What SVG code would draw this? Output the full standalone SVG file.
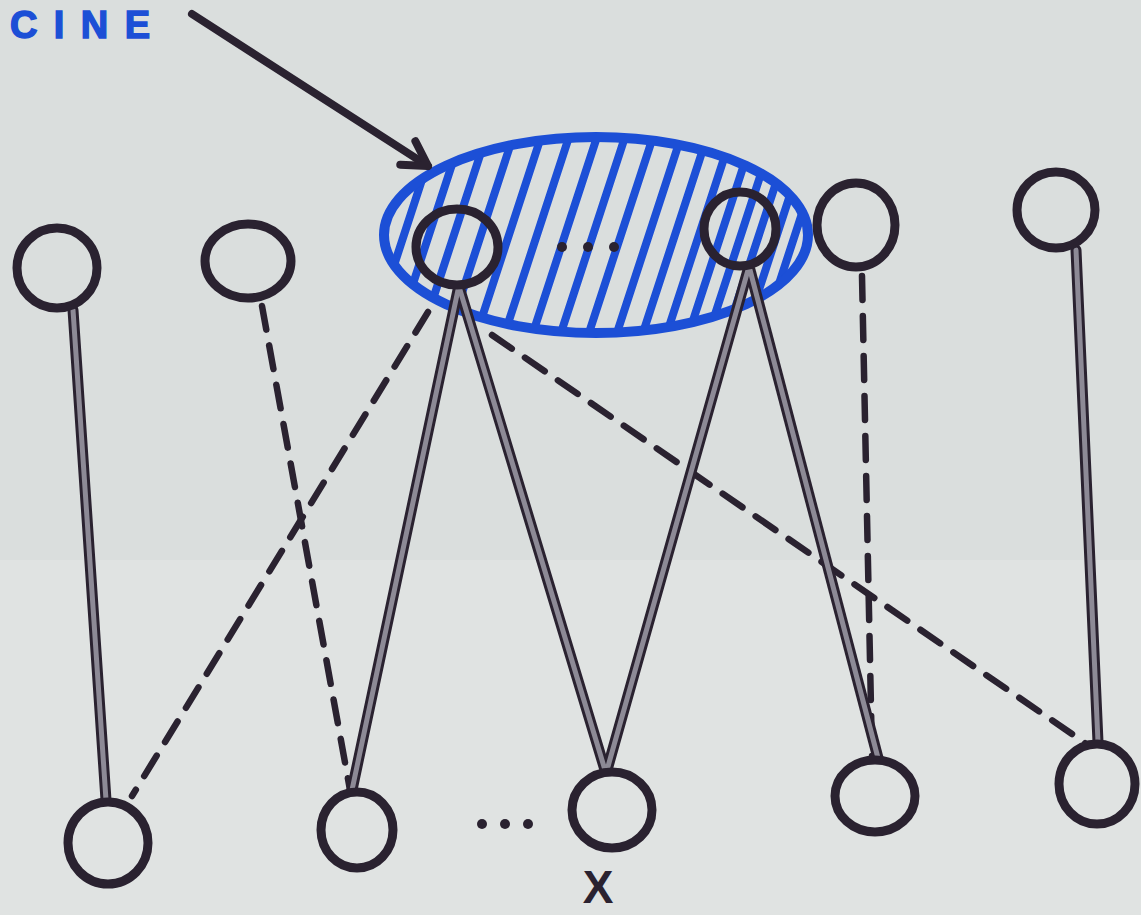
<svg xmlns="http://www.w3.org/2000/svg" width="1141" height="915" viewBox="0 0 1141 915">
<defs>
<style>
.node{fill:none;stroke:#2a2230;stroke-width:9}
.edge-o{fill:none;stroke:#2a2230;stroke-width:11;stroke-linecap:round}
.edge-i{fill:none;stroke:#8d8a96;stroke-width:5;stroke-linecap:round}
.dash{fill:none;stroke:#2a2230;stroke-width:6.5;stroke-dasharray:24 16;stroke-linecap:round}
.hatch{stroke:#1c4fd6;stroke-width:8;stroke-linecap:round}
.dot{fill:#2a2230}
</style>
<clipPath id="ellClip"><ellipse cx="596" cy="235" rx="210" ry="96"/></clipPath>
<marker id="arrow" markerWidth="40" markerHeight="40" refX="30" refY="20" orient="auto" markerUnits="userSpaceOnUse">
<path d="M6,6 L30,20 L6,34" fill="none" stroke="#2a2230" stroke-width="8" stroke-linecap="round" stroke-linejoin="round"/>
</marker>
</defs>
<rect width="1141" height="915" fill="#dadedd"/>
<rect y="560" width="1141" height="355" fill="#e0e3e2"/>
<text x="10" y="38" font-family="Liberation Sans, Arial, sans-serif" font-weight="bold" font-size="38" fill="#1c4fd6" stroke="#1c4fd6" stroke-width="1.5" textLength="140" lengthAdjust="spacing">CINE</text>
<g id="group-ellipse">
<g clip-path="url(#ellClip)">
<line class="hatch" x1="325" y1="400" x2="410" y2="140"/>
<line class="hatch" x1="350" y1="400" x2="435" y2="140"/>
<line class="hatch" x1="375" y1="400" x2="460" y2="140"/>
<line class="hatch" x1="400" y1="400" x2="485" y2="140"/>
<line class="hatch" x1="427" y1="400" x2="512" y2="140"/>
<line class="hatch" x1="455" y1="400" x2="540" y2="140"/>
<line class="hatch" x1="483" y1="400" x2="568" y2="140"/>
<line class="hatch" x1="511" y1="400" x2="596" y2="140"/>
<line class="hatch" x1="539" y1="400" x2="624" y2="140"/>
<line class="hatch" x1="567" y1="400" x2="652" y2="140"/>
<line class="hatch" x1="595" y1="400" x2="680" y2="140"/>
<line class="hatch" x1="621" y1="400" x2="706" y2="140"/>
<line class="hatch" x1="645" y1="400" x2="730" y2="140"/>
<line class="hatch" x1="667" y1="400" x2="752" y2="140"/>
<line class="hatch" x1="687" y1="400" x2="772" y2="140"/>
<line class="hatch" x1="705" y1="400" x2="790" y2="140"/>
<line class="hatch" x1="723" y1="400" x2="808" y2="140"/>
<line class="hatch" x1="741" y1="400" x2="826" y2="140"/>
<line class="hatch" x1="759" y1="400" x2="844" y2="140"/>
<line class="hatch" x1="777" y1="400" x2="862" y2="140"/>
</g>
<ellipse cx="596" cy="235" rx="212" ry="98" fill="none" stroke="#1c4fd6" stroke-width="10"/>
<circle class="dot" cx="562" cy="247" r="5"/>
<circle class="dot" cx="588" cy="247" r="5"/>
<circle class="dot" cx="614" cy="247" r="5"/>
</g>
<g id="connectors">
<line x1="192" y1="14" x2="428" y2="166" stroke="#2a2230" stroke-width="8" stroke-linecap="round" marker-end="url(#arrow)"/>
<line class="dash" x1="428" y1="312" x2="132" y2="796"/>
<line class="dash" x1="262" y1="306" x2="350" y2="790"/>
<line class="dash" x1="492" y1="335" x2="1088" y2="745"/>
<line class="dash" x1="862" y1="276" x2="872" y2="756"/>
<g>
<line class="edge-o" x1="73" y1="310" x2="106" y2="800"/>
<line class="edge-o" x1="458" y1="290" x2="352" y2="790"/>
<line class="edge-o" x1="460" y1="290" x2="605" y2="770"/>
<line class="edge-o" x1="748" y1="270" x2="607" y2="770"/>
<line class="edge-o" x1="750" y1="270" x2="878" y2="758"/>
<line class="edge-o" x1="1076" y1="250" x2="1098" y2="742"/>
<line class="edge-i" x1="73" y1="310" x2="106" y2="800"/>
<line class="edge-i" x1="458" y1="290" x2="352" y2="790"/>
<line class="edge-i" x1="460" y1="290" x2="605" y2="770"/>
<line class="edge-i" x1="748" y1="270" x2="607" y2="770"/>
<line class="edge-i" x1="750" y1="270" x2="878" y2="758"/>
<line class="edge-i" x1="1076" y1="250" x2="1098" y2="742"/>
</g>
</g>
<g id="node-a"><ellipse class="node" cx="57" cy="268" rx="40" ry="40"/></g>
<g id="node-b"><ellipse class="node" cx="248" cy="261" rx="43" ry="37"/></g>
<g id="node-c"><ellipse class="node" cx="457" cy="247" rx="41" ry="38"/></g>
<g id="node-d"><ellipse class="node" cx="740" cy="229" rx="36" ry="37"/></g>
<g id="node-e"><ellipse class="node" cx="856" cy="225" rx="39" ry="42"/></g>
<g id="node-f"><ellipse class="node" cx="1056" cy="210" rx="39" ry="38"/></g>
<g id="node-g"><ellipse class="node" cx="108" cy="843" rx="40" ry="41"/></g>
<g id="node-h"><ellipse class="node" cx="357" cy="830" rx="36" ry="38"/></g>
<g id="dots-bottom">
<circle class="dot" cx="482" cy="824" r="5"/>
<circle class="dot" cx="505" cy="824" r="5"/>
<circle class="dot" cx="528" cy="824" r="5"/>
</g>
<g id="node-x">
<ellipse class="node" cx="612" cy="810" rx="40" ry="38"/>
<text x="598" y="903" font-family="Liberation Sans, Arial, sans-serif" font-weight="bold" font-size="46" fill="#2a2230" text-anchor="middle">X</text>
</g>
<g id="node-j"><ellipse class="node" cx="875" cy="796" rx="40" ry="36"/></g>
<g id="node-k"><ellipse class="node" cx="1097" cy="784" rx="38" ry="40"/></g>
</svg>
